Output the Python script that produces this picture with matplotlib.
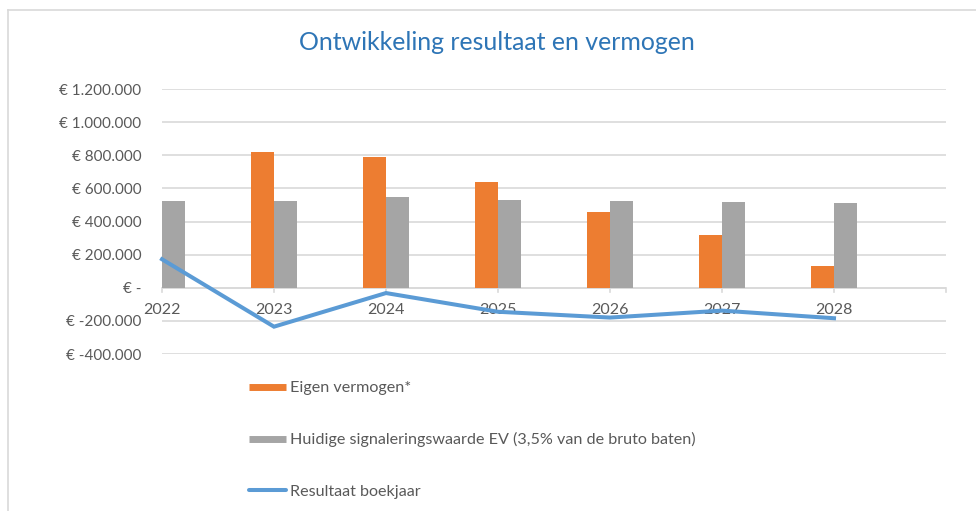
import matplotlib
matplotlib.use("Agg")
import matplotlib.pyplot as plt
from matplotlib.lines import Line2D
import numpy as np

years = ["2022", "2023", "2024", "2025", "2026", "2027", "2028"]
eigen_vermogen = [np.nan, 820000, 790000, 636000, 455000, 316000, 134000]
signaleringswaarde = [524000, 524000, 545000, 530000, 524000, 516000, 510000]
resultaat = [172000, -235000, -32000, -145000, -180000, -138000, -184000]
labels = ["Eigen vermogen*",
          "Huidige signaleringswaarde EV (3,5% van de bruto baten)",
          "Resultaat boekjaar"]

ORANGE = "#ED7D31"
GREY = "#A5A5A5"
BLUE = "#5B9BD5"
TXT = "#595959"
GRID = "#D9D9D9"

plt.rcParams['font.family'] = ['Lato', 'DejaVu Sans']

W, H = 976, 511
fig = plt.figure(figsize=(W / 100, H / 100), dpi=100)
ax = fig.add_axes([162 / W, 1 - 354 / H, (946 - 162) / W, (354 - 89) / H])

x = np.arange(len(years))
bw = 0.205
ax.bar(x - bw / 2, eigen_vermogen, width=bw, color=ORANGE, zorder=2, clip_on=True)
ax.bar(x + bw / 2, signaleringswaarde, width=bw, color=GREY, zorder=2, clip_on=True)
ax.plot(x, resultaat, color=BLUE, lw=2.9, zorder=3, solid_joinstyle='miter', clip_on=False)

ax.set_xlim(0, 7)
ax.set_ylim(-400000, 1200000)
ax.set_yticks(np.arange(-400000, 1200001, 200000))

def fmt(v):
    if v == 0:
        return "€ -"
    s = f"{abs(int(v)):,}".replace(",", ".")
    return f"€ -{s}" if v < 0 else f"€ {s}"

ax.set_yticklabels([fmt(v) for v in ax.get_yticks()])
ax.yaxis.grid(True, color=GRID, lw=1.2, zorder=0)
ax.tick_params(axis='y', length=0, pad=15, labelsize=11, labelcolor=TXT)

for s in ["top", "right", "left", "bottom"]:
    ax.spines[s].set_visible(False)

# category axis at zero
ax.axhline(0, color=GRID, lw=1.2, zorder=1)
ax.set_xticks(np.arange(0, 8))
ax.set_xticklabels([])
ax.tick_params(axis='x', length=0)
for xi in range(8):
    ax.plot([xi, xi], [0, -25000], color=GRID, lw=1.2, zorder=1, clip_on=False)
for xi, yr in zip(x, years):
    ax.text(xi, -133000, yr, ha='center', va='center', fontsize=11.5, color=TXT, zorder=2.5)

fig.text(497 / W, 1 - 42 / H, "Ontwikkeling resultaat en vermogen",
         ha='center', va='center', fontsize=17.9, color="#2E75B6")

handles = [Line2D([], [], color=ORANGE, lw=5, solid_capstyle='butt'),
           Line2D([], [], color=GREY, lw=5, solid_capstyle='butt'),
           Line2D([], [], color=BLUE, lw=2.9, solid_capstyle='round')]
fig.legend(handles, labels, loc='upper left', bbox_to_anchor=(249 / W, 1 - 381 / H),
           frameon=False, fontsize=11.6, labelcolor=TXT, handlelength=2.3,
           handletextpad=0.25, labelspacing=2.3, borderaxespad=0, borderpad=0)

# chart border (left and top visible)
fig.add_artist(Line2D([7.5 / W, 7.5 / W], [0, 1 - 10 / H], transform=fig.transFigure,
                      color=GRID, lw=1.2))
fig.add_artist(Line2D([7.5 / W, 1], [1 - 10 / H, 1 - 10 / H], transform=fig.transFigure,
                      color=GRID, lw=1.2))

fig.savefig("out.png", dpi=100, facecolor="white")
